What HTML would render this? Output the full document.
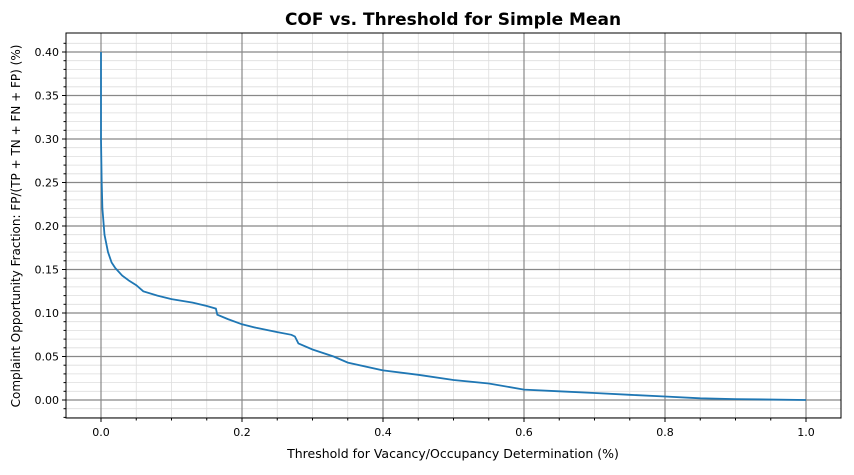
<!DOCTYPE html>
<html><head><meta charset="utf-8"><style>
body{margin:0;background:#fff;width:854px;height:470px;overflow:hidden;font-family:"Liberation Sans","DejaVu Sans",sans-serif}
</style></head><body>
<svg id="chart" width="854" height="470" xmlns="http://www.w3.org/2000/svg" font-family="DejaVu Sans, Liberation Sans, sans-serif">
<text x="453" y="25" text-anchor="middle" font-size="17" font-weight="bold">COF vs. Threshold for Simple Mean</text>
<text x="453" y="458" text-anchor="middle" font-size="12.5">Threshold for Vacancy/Occupancy Determination (%)</text>
<text transform="translate(20,226) rotate(-90)" text-anchor="middle" font-size="12">Complaint Opportunity Fraction: FP/(TP + TN + FN + FP) (%)</text>
<g id="grid"></g><g id="ticks"></g><g id="series"></g>
<rect x="66" y="33" width="775" height="385" fill="none" stroke="#000" stroke-width="1"/>
</svg>
<script>
const xs=[0,0,0.001,0.002,0.005,0.01,0.015,0.02,0.03,0.04,0.05,0.06,0.08,0.1,0.13,0.15,0.163,0.165,0.18,0.2,0.22,0.25,0.27,0.275,0.28,0.3,0.33,0.35,0.4,0.45,0.5,0.55,0.6,0.65,0.7,0.75,0.8,0.85,0.9,1.0];
const ys=[0.40,0.30,0.25,0.22,0.19,0.17,0.158,0.152,0.143,0.137,0.132,0.125,0.12,0.116,0.112,0.108,0.105,0.098,0.093,0.087,0.083,0.078,0.075,0.073,0.065,0.058,0.05,0.043,0.034,0.029,0.023,0.019,0.012,0.01,0.008,0.006,0.004,0.002,0.001,0.0];
const xTicks=["0.0","0.2","0.4","0.6","0.8","1.0"];
const yTicks=["0.00","0.05","0.10","0.15","0.20","0.25","0.30","0.35","0.40"];
const X=v=>101+705*v, Y=v=>400-870*v;
const NS="http://www.w3.org/2000/svg";
const g=document.getElementById('grid'),t=document.getElementById('ticks'),s=document.getElementById('series');
function mk(p,tag,a){const e=document.createElementNS(NS,tag);for(const k in a)e.setAttribute(k,a[k]);p.appendChild(e);return e;}
for(let v=-0.05;v<=1.05001;v+=0.05){const x=X(v);if(x<66||x>841)continue;
 const l=mk(g,'line',{x1:x,x2:x,y1:33,y2:418,stroke:'#ddd','stroke-width':0.8});
 
 
 const tk=mk(t,'line',{x1:x,x2:x,y1:418,y2:420.5,stroke:'#000'});
 
 }
for(let v=-0.02;v<=0.42;v+=0.01){const y=Y(v);if(y<33||y>418)continue;
 const l=mk(g,'line',{x1:66,x2:841,y1:y,y2:y,stroke:'#ddd','stroke-width':0.8});
 
 
 const tk=mk(t,'line',{x1:63.5,x2:66,y1:y,y2:y,stroke:'#000'});
 
 }
xTicks.forEach(lb=>{const x=X(parseFloat(lb));
 const l=mk(g,'line',{x1:x,x2:x,y1:33,y2:418,stroke:'#888','stroke-width':1.2});
 
 
 mk(t,'line',{x1:x,x2:x,y1:418,y2:422,stroke:'#000'});
 const tx=mk(t,'text',{x:x,y:436,'text-anchor':'middle','font-size':11});tx.textContent=lb;
 
 });
yTicks.forEach(lb=>{const y=Y(parseFloat(lb));
 const l=mk(g,'line',{x1:66,x2:841,y1:y,y2:y,stroke:'#888','stroke-width':1.2});
 
 
 mk(t,'line',{x1:62,x2:66,y1:y,y2:y,stroke:'#000'});
 const tx=mk(t,'text',{x:59,y:y+4,'text-anchor':'end','font-size':11});tx.textContent=lb;
 
 });
const path=mk(s,'path',{d:xs.map((v,i)=>(i?'L':'M')+X(v).toFixed(1)+','+Y(ys[i]).toFixed(1)).join(''),fill:'none',stroke:'#1f77b4','stroke-width':1.8});


</script>
</body></html>
